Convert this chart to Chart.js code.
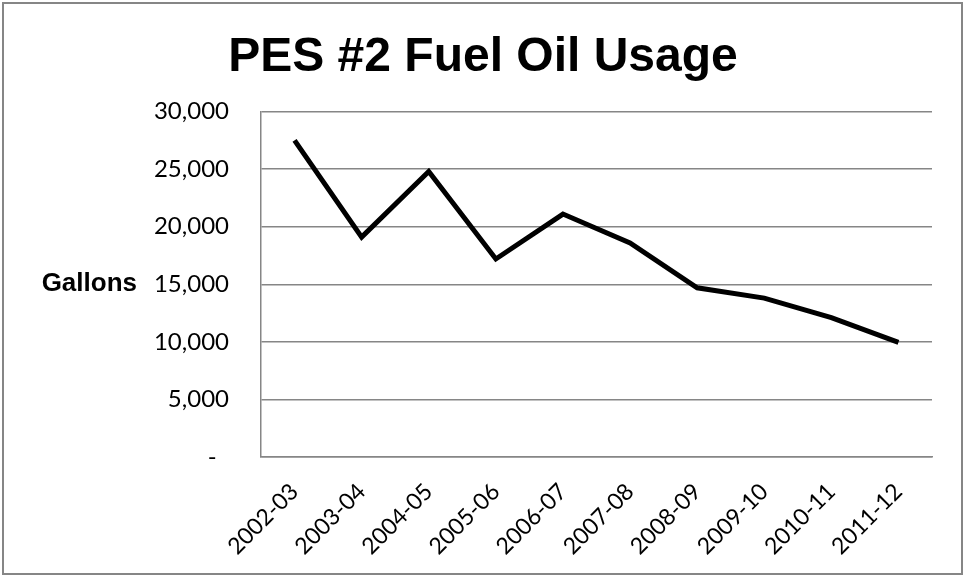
<!DOCTYPE html>
<html>
<head>
<meta charset="utf-8">
<script src="https://cdn.jsdelivr.net/npm/chart.js@4"></script>
<style>
  html, body { margin: 0; padding: 0; background: #fff; }
  #wrap { width: 966px; height: 576px; position: relative; }
</style>
</head>
<body>
<div id="wrap"><canvas id="c" width="966" height="576"></canvas></div>
<script>
const categories = ['2002-03','2003-04','2004-05','2005-06','2006-07','2007-08','2008-09','2009-10','2010-11','2011-12'];
const gallons = [27500, 19100, 24800, 17200, 21100, 18600, 14700, 13800, 12100, 9950];
const yTicks = [0, 5000, 10000, 15000, 20000, 25000, 30000];
const titleText = 'PES #2 Fuel Oil Usage';
const yTitleText = 'Gallons';

const gridColor = '#868686';

const framePlugin = {
  id: 'frame',
  afterDraw(chart) {
    const ctx = chart.ctx;
    ctx.save();
    ctx.strokeStyle = gridColor;
    ctx.lineWidth = 2;
    ctx.strokeRect(3, 3, 959, 571);
    // horizontal y-axis title
    const ca = chart.chartArea;
    ctx.fillStyle = '#000';
    ctx.font = 'bold 26px "Liberation Sans", Arial, sans-serif';
    ctx.textAlign = 'right';
    ctx.textBaseline = 'middle';
    ctx.fillText(yTitleText, 137, (ca.top + ca.bottom) / 2);
    ctx.restore();
  }
};

new Chart(document.getElementById('c'), {
  type: 'line',
  data: {
    labels: categories,
    datasets: [{
      data: gallons,
      borderColor: '#000',
      borderWidth: 5,
      pointRadius: 0,
      tension: 0,
      fill: false,
      borderJoinStyle: 'miter'
    }]
  },
  options: {
    responsive: false,
    animation: false,
    layout: { padding: { left: 34, right: 34, top: 0, bottom: 0 } },
    plugins: {
      legend: { display: false },
      tooltip: { enabled: false },
      title: {
        display: true,
        text: titleText,
        color: '#000',
        font: { family: '"Liberation Sans", Arial, sans-serif', size: 48, weight: 'bold', lineHeight: 1.2 },
        padding: { top: 29, bottom: 25 }
      }
    },
    scales: {
      x: {
        type: 'category',
        offset: true,
        grid: { display: false, drawTicks: false },
        border: { display: true, color: gridColor, width: 1.5 },
        ticks: {
          color: '#000',
          font: { family: 'Lato, sans-serif', size: 23 },
          minRotation: 45,
          maxRotation: 45,
          autoSkip: false,
          padding: 21
        },
        afterFit(scale) { scale.height = 119; }
      },
      y: {
        min: 0,
        max: 30000,
        afterBuildTicks(scale) { scale.ticks = yTicks.map(v => ({ value: v })); },
        grid: { color: gridColor, lineWidth: 1.5, drawTicks: false },
        border: { display: true, color: gridColor, width: 1.5 },
        ticks: {
          color: '#000',
          font: { family: 'Lato, sans-serif', size: 24 },
          padding: 32,
          callback(v) { return v === 0 ? '-  ' : v.toLocaleString('en-US'); }
        },
        afterFit(scale) { scale.width = 227; }
      }
    }
  },
  plugins: [framePlugin]
});
</script>
</body>
</html>
